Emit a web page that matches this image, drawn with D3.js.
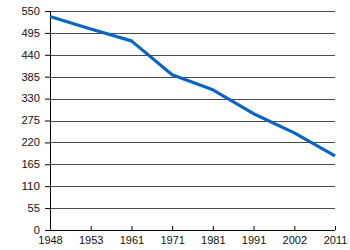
<!DOCTYPE html>
<html>
<head>
<meta charset="utf-8">
<script src="https://cdn.jsdelivr.net/npm/d3@7"></script>
<style>
  body { margin: 0; background: #fff; }
  text { font-family: "Liberation Sans", Arial, sans-serif; font-size: 10.5px; fill: #111; }
</style>
</head>
<body>
<svg width="350" height="250"></svg>
<script>
const years = ['1948', '1953', '1961', '1971', '1981', '1991', '2002', '2011'];
const values = [536, 505, 475, 390, 352, 292, 244, 186];
const yTicks = [0, 55, 110, 165, 220, 275, 330, 385, 440, 495, 550];

const svg = d3.select('svg'),
  margin = { top: 11, right: 15, bottom: 20, left: 50 },
  width = +svg.attr('width') - margin.left - margin.right,
  height = +svg.attr('height') - margin.top - margin.bottom,
  g = svg.append('g').attr('transform', `translate(${margin.left},${margin.top})`);

const x = d3.scalePoint().domain(years).range([0, width]);
const y = d3.scaleLinear().domain([0, 550]).range([height, 0]);

// horizontal grid lines
g.selectAll('.grid')
  .data(yTicks.filter(d => d > 0))
  .enter().append('line')
  .attr('class', 'grid')
  .attr('x1', 0).attr('x2', width)
  .attr('y1', d => Math.round(y(d)) + 0.5)
  .attr('y2', d => Math.round(y(d)) + 0.5)
  .attr('stroke', '#4a4a4a')
  .attr('stroke-width', 1);

// y axis
const yAxis = g.append('g')
  .call(d3.axisLeft(y).tickValues(yTicks).tickSize(5).tickPadding(5));
yAxis.select('.domain').attr('stroke', '#000').attr('d', `M0.5,${height}V0`);
yAxis.selectAll('.tick line').attr('stroke', '#000');
// labels in the original are a bit wider than the font
yAxis.selectAll('.tick text')
  .attr('textLength', d => String(d).length * 6.2)
  .attr('lengthAdjust', 'spacingAndGlyphs');

// x axis, ticks pointing up
const xAxis = g.append('g')
  .attr('transform', `translate(0,${height})`)
  .call(d3.axisBottom(x).tickSize(-4).tickPadding(6));
xAxis.select('.domain').attr('stroke', '#000').attr('d', `M-5,0.5H${width}`);
xAxis.selectAll('.tick line').attr('stroke', '#000');
xAxis.selectAll('text').attr('dy', '0.71em').style('font-size', '11px');

// data line
const line = d3.line()
  .x((d, i) => x(years[i]))
  .y(d => y(d));

g.append('path')
  .datum(values)
  .attr('fill', 'none')
  .attr('stroke', '#0a64c0')
  .attr('stroke-width', 3.2)
  .attr('stroke-linejoin', 'round')
  .attr('d', line);
</script>
</body>
</html>
